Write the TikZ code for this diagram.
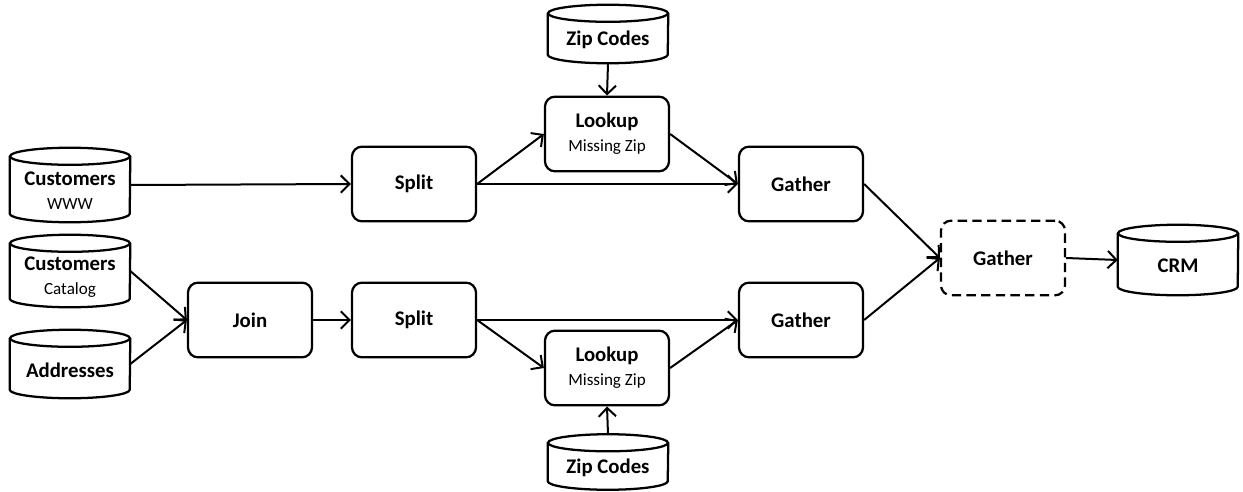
\documentclass[tikz,border=0pt]{standalone}
\usepackage{fontspec}
\setmainfont{Carlito}
\usetikzlibrary{arrows.meta}
\newcommand\subf{\fontsize{12.8}{14}\selectfont}
\newcommand\dbcyl[5]{%
  \node[dbbody, minimum height=#4*0.75pt] (#1) at (#2,#3) {};
  \node[dbtext] (#1-t) at ([yshift=-4.5pt]#1.center) {#5};
  \draw[dbline] ([yshift=-6.4pt]#1.north west) -- ([yshift=6.4pt]#1.south west)
     arc[start angle=180, end angle=360, x radius=45pt, y radius=6.4pt]
     -- ([yshift=-6.4pt]#1.north east);
  \draw[dbline] ([yshift=-6.4pt]#1.north) ellipse[x radius=45pt, y radius=6.4pt];
}
\tikzset{
  every node/.style={font=\fontsize{15.6}{18}\selectfont},
  dbbody/.style={draw=none, minimum width=90pt, inner sep=0pt},
  dbtext/.style={align=center, inner sep=0pt},
  dbline/.style={line width=1.7pt},
  procbox/.style={draw, line width=1.7pt, rounded corners=7.5pt, minimum width=93pt,
    minimum height=56pt, align=center, inner sep=0pt},
  dashbox/.style={procbox, dash pattern=on 7pt off 4pt},
  conn/.style={line width=1.5pt, -{Straight Barb[length=6.5pt, width=13pt, line width=1.5pt]}}
}
\begin{document}
\begin{tikzpicture}[x=0.75pt, y=-0.75pt]
\useasboundingbox (0,0) rectangle (1243,492);

\dbcyl{cw}{70}{185}{74}{\textbf{Customers}\\{\subf WWW}}
\dbcyl{cc}{70}{271}{72}{\textbf{Customers}\\{\subf Catalog}}
\dbcyl{ad}{70}{364}{68}{\textbf{Addresses}}
\dbcyl{zt}{608}{34}{58}{\textbf{Zip Codes}}
\dbcyl{zb}{608}{462}{55}{\textbf{Zip Codes}}
\dbcyl{crm}{1178}{260}{70}{\textbf{CRM}}

\node[procbox] (join) at (250,320) {\textbf{Join}};
\node[procbox] (split1) at (414,184) {\textbf{Split}};
\node[procbox] (split2) at (414,320) {\textbf{Split}};
\node[procbox] (look1) at (607,134) {\textbf{Lookup}\\{\subf Missing Zip}};
\node[procbox] (look2) at (607,368) {\textbf{Lookup}\\{\subf Missing Zip}};
\node[procbox] (gat1) at (801,184) {\textbf{Gather}};
\node[procbox] (gat2) at (801,320) {\textbf{Gather}};
\node[dashbox] (gat3) at (1003,258) {\textbf{Gather}};

\draw[conn] (cw.east) -- (split1.west);
\draw[conn] (cc.east) -- (join.west);
\draw[conn] (ad.east) -- (join.west);
\draw[conn] (join.east) -- (split2.west);
\draw[conn] (split1.east) -- (look1.west);
\draw[conn] (split1.east) -- (gat1.west);
\draw[conn] (look1.east) -- (gat1.west);
\draw[conn] (zt.south) -- (look1.north);
\draw[conn] (split2.east) -- (look2.west);
\draw[conn] (split2.east) -- (gat2.west);
\draw[conn] (look2.east) -- (gat2.west);
\draw[conn] (zb.north) -- (look2.south);
\draw[conn] (gat1.east) -- (gat3.west);
\draw[conn] (gat2.east) -- (gat3.west);
\draw[conn] (gat3.east) -- (crm.west);
\end{tikzpicture}
\end{document}
